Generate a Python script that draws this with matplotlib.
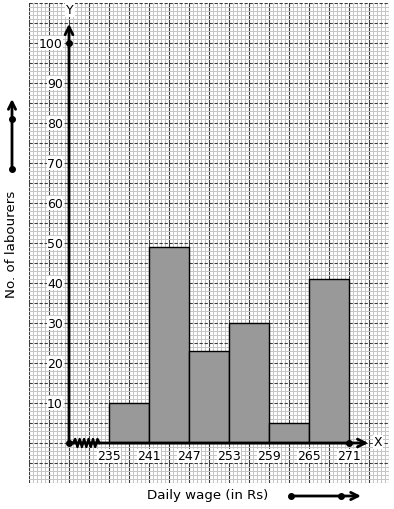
import numpy as np
import matplotlib
matplotlib.use("Agg")
import matplotlib.pyplot as plt
from matplotlib.lines import Line2D

# ---- data ----
class_edges = [235, 241, 247, 253, 259, 265, 271]
labourers = [10, 49, 23, 30, 5, 41]
y_ticks = [10, 20, 30, 40, 50, 60, 70, 80, 90, 100]
x_label = "Daily wage (in Rs)"
y_label = "No. of labourers"

W, H = 394, 510
fig = plt.figure(figsize=(W / 100, H / 100), dpi=100)
ax = fig.add_axes([29 / W, 26 / H, 360 / W, 480 / H])

x0, y0 = 229, 0          # origin of drawn axes (kink before 235)
xmin, xmax = 223, 277
ymin, ymax = -10, 110
ax.set_xlim(xmin, xmax)
ax.set_ylim(ymin, ymax)

# graph paper
ax.set_xticks(np.arange(xmin, xmax + 0.01, 3))
ax.set_yticks(np.arange(ymin, ymax + 0.01, 5))
ax.set_xticks(np.arange(xmin, xmax + 0.01, 0.6), minor=True)
ax.set_yticks(np.arange(ymin, ymax + 0.01, 1), minor=True)
ax.grid(which="minor", color="#c6c6c6", lw=0.72, zorder=0)
ax.xaxis.grid(True, which="major", color="#3c3c3c", lw=0.8, zorder=0.5)
ax.yaxis.grid(True, which="major", color="#3c3c3c", lw=0.8, ls=(0, (3, 1.5)), zorder=0.5)
ax.set_axisbelow(True)
ax.tick_params(which="both", length=0, labelbottom=False, labelleft=False)
for s in ax.spines.values():
    s.set_visible(False)

# bars
ax.bar(class_edges[:-1], labourers, width=np.diff(class_edges), align="edge",
       color="#999999", edgecolor="black", lw=1.0, zorder=2)

# axes arrows
ax.annotate("", xy=(x0, 104.8), xytext=(x0, y0),
            arrowprops=dict(arrowstyle="->", lw=2.0, color="black",
                            mutation_scale=14, shrinkA=0, shrinkB=0), zorder=4)
ax.annotate("", xy=(273.9, y0), xytext=(x0, y0),
            arrowprops=dict(arrowstyle="->", lw=2.0, color="black",
                            mutation_scale=14, shrinkA=0, shrinkB=0), zorder=4)
ax.plot([x0], [y0], "o", color="black", ms=4, zorder=5)
ax.plot([x0], [100], "o", color="black", ms=4, zorder=5)
ax.plot([class_edges[-1]], [y0], "o", color="black", ms=4, zorder=5)

# kink zigzag
n = 13
zx = np.linspace(229.6, 233.6, n)
zy = np.array([0 if i in (0, n - 1) else (1.0 if i % 2 else -1.0) for i in range(n)])
ax.plot(zx, zy, color="black", lw=1.7, zorder=5)

ax.text(x0 + 0.15, 108.3, "Y", ha="center", va="center", fontsize=9,
        bbox=dict(facecolor="white", edgecolor="none", pad=0.5), zorder=6)
ax.text(275.35, y0 + 0.3, "X", ha="center", va="center", fontsize=9,
        bbox=dict(facecolor="white", edgecolor="none", pad=0.5), zorder=6)

# tick labels
for v in y_ticks:
    ax.text(x0 - 0.9, v, str(v), ha="right", va="center", fontsize=9,
            bbox=dict(facecolor="white", edgecolor="none", pad=0.3), zorder=6)
for e in class_edges:
    ax.text(e, -3.2, str(e), ha="center", va="center", fontsize=9,
            bbox=dict(facecolor="white", edgecolor="none", pad=0.3), zorder=6)

# outer labels and decorative arrows
fig.text(12 / W, 1 - 244 / H, y_label, rotation=90, ha="center", va="center", fontsize=9.6)
fig.text(208 / W, 1 - 496 / H, x_label, ha="center", va="center", fontsize=9.6)

ax.annotate("", xy=(12, H - 100), xytext=(12, H - 170), xycoords="figure pixels",
            arrowprops=dict(arrowstyle="->", lw=2.0, color="black",
                            mutation_scale=13, shrinkA=0, shrinkB=0))
fig.add_artist(Line2D([12 / W, 12 / W], [1 - 170 / H, 1 - 120 / H], ls="none",
                      marker="o", ms=4, color="black", transform=fig.transFigure))
ax.annotate("", xy=(361, H - 497), xytext=(291, H - 497), xycoords="figure pixels",
            arrowprops=dict(arrowstyle="->", lw=2.0, color="black",
                            mutation_scale=13, shrinkA=0, shrinkB=0))
fig.add_artist(Line2D([291 / W, 341 / W], [1 - 497 / H, 1 - 497 / H], ls="none",
                      marker="o", ms=4, color="black", transform=fig.transFigure))

fig.savefig("out.png", dpi=100, facecolor="white")
